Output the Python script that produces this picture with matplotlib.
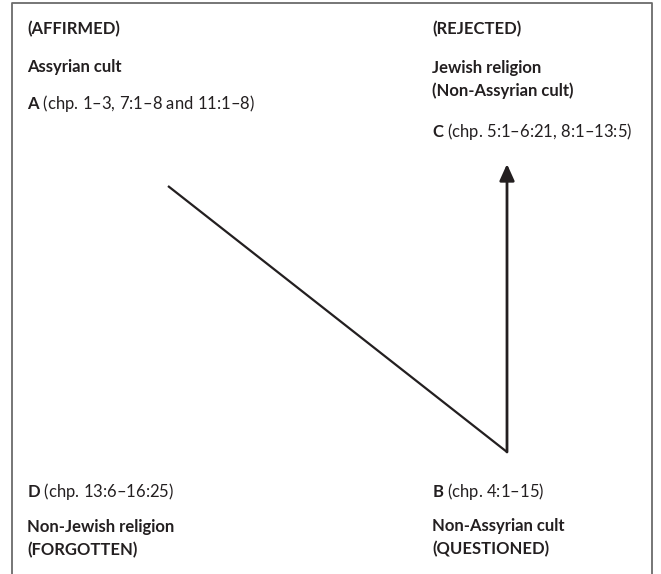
import matplotlib.pyplot as plt

plt.rcParams["font.family"] = ["Lato", "DejaVu Sans"]
plt.rcParams["mathtext.fontset"] = "custom"
plt.rcParams["mathtext.rm"] = "Lato"
plt.rcParams["mathtext.bf"] = "Lato:bold"

# Corner labels: (text, y) in pixel space
corner_left_top = [("(AFFIRMED)", 29), ("Assyrian cult", 67)]
corner_right_top = [("(REJECTED)", 29), ("Jewish religion", 68), ("(Non-Assyrian cult)", 91)]
corner_left_bottom = [("Non-Jewish religion", 527), ("(FORGOTTEN)", 550)]
corner_right_bottom = [("Non-Assyrian cult", 526), ("(QUESTIONED)", 549)]

# Chapter labels: letter, range text, x, y
chapters = [
    ("A", "(chp. 1\u20133, 7:1\u20138 and 11:1\u20138)", 27, 103),
    ("C", "(chp. 5:1\u20136:21, 8:1\u201313:5)", 432, 131),
    ("D", "(chp. 13:6\u201316:25)", 27, 492),
    ("B", "(chp. 4:1\u201315)", 432, 492),
]

# Path of the movement: A -> B, then B -> C with arrow
path_x = [168, 507]
path_y = [186, 452]
arrow_start = (507, 452)
arrow_end = (507, 164)

fig = plt.figure(figsize=(6.61, 5.74), dpi=100)
ax = fig.add_axes([0, 0, 1, 1])
ax.set_xlim(0, 661)
ax.set_ylim(574, 0)
ax.axis("off")

# Frame (open at the bottom)
ax.plot([12, 12, 652, 652], [574, 3, 3, 574], color="#6b6b6b", lw=1.3)

fs = 12
col = "#231f20"
for items, x in [(corner_left_top, 27), (corner_right_top, 432),
                 (corner_left_bottom, 27), (corner_right_bottom, 432)]:
    for text, y in items:
        ax.text(x, y, text, fontsize=fs, fontweight="bold", color=col, va="center")

for letter, rng, x, y in chapters:
    ax.text(x, y, r"$\mathbf{%s}$ %s" % (letter, rng), fontsize=fs,
            color=col, va="center")

ax.plot(path_x, path_y, color=col, lw=1.6, solid_capstyle="butt")
ax.annotate("", xy=arrow_end, xytext=arrow_start,
            arrowprops=dict(arrowstyle="-|>,head_length=1.0,head_width=0.45",
                            color=col, lw=2, shrinkA=0, shrinkB=0))

fig.savefig("out.png", dpi=100)
